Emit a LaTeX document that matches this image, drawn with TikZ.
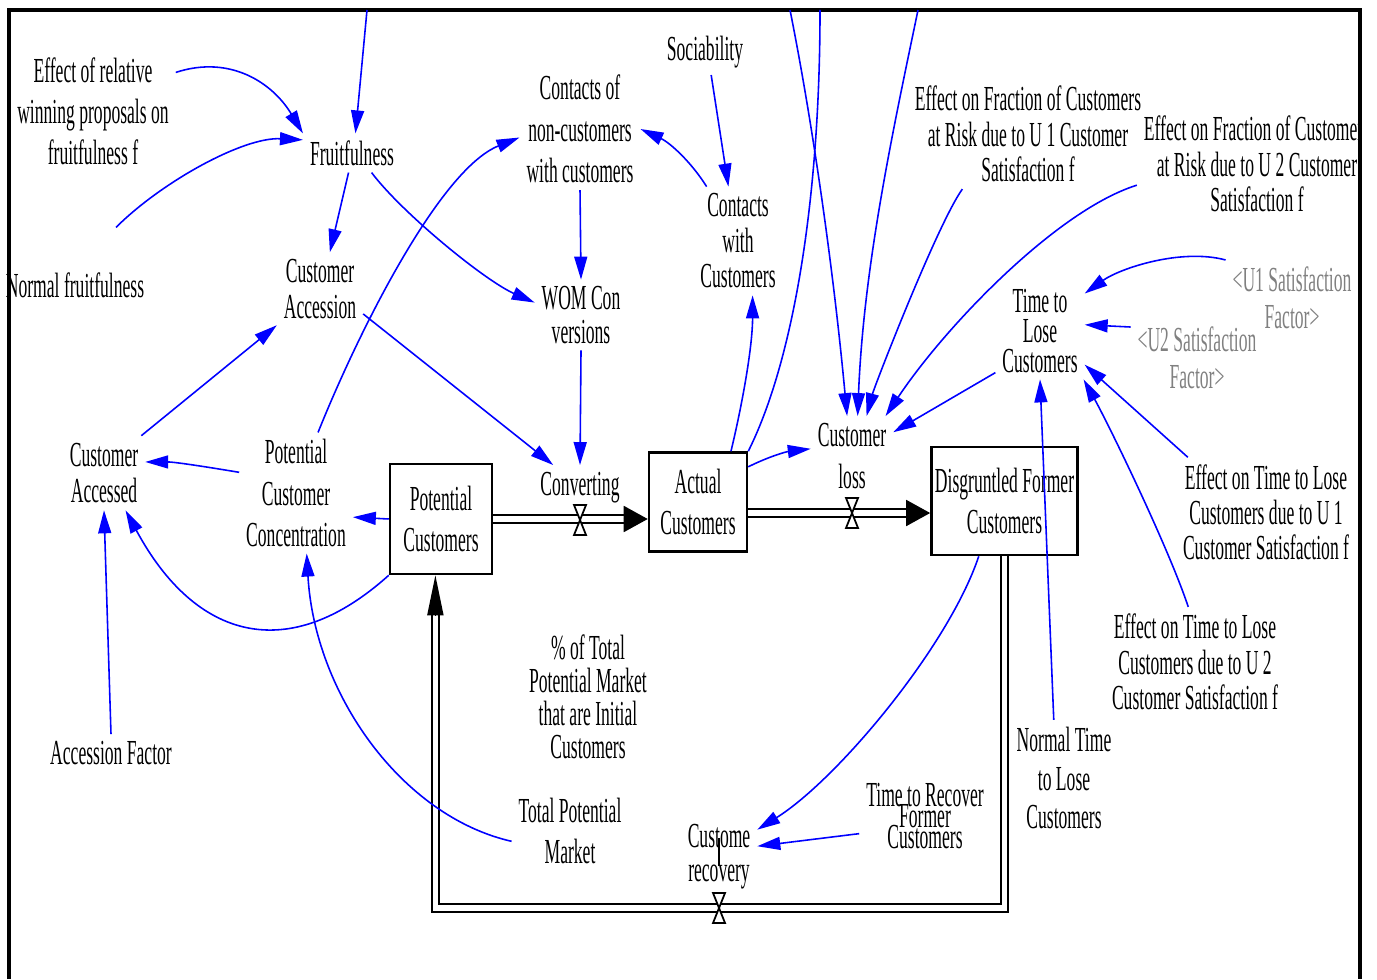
\documentclass[tikz,border=0pt]{standalone}
\usepackage{fontspec}
\setmainfont{Liberation Serif}[FakeStretch=0.5]
\usepackage{xcolor}
\usepackage{tikz}
\usetikzlibrary{arrows.meta,positioning,calc}
\tikzset{
  var/.style={align=center, inner sep=0pt, outer sep=2pt, font={\fontsize{10}{#1}\selectfont\lineskiplimit=-20pt}},
  var/.default=10.4,
  shadowvar/.style={var=#1, text=black!50},
  shadowvar/.default=10.5,
  stock/.style={draw, line width=0.7pt, fill=white, inner sep=1pt, align=center, font={\fontsize{10}{11.7}\selectfont}},
  link/.style={draw=blue, line width=0.45pt, -{Triangle[length=2.3mm,width=1.3mm]}},
  pipe/.style={draw=black, double=white, line width=0.55pt, double distance=0.55mm},
  pipetip/.style={-{Triangle[length=2.4mm,width=2.6mm]}, line width=0.5pt},
  pipetipup/.style={-{Triangle[length=4mm,width=1.6mm]}, line width=0.5pt},
  valve/.style={draw, fill=white, line width=0.5pt},
}
\newcommand{\flowvalve}[1]{\draw[valve] ($(#1)+(-6,15)$) -- ++(12,0) -- ++(-12,-30) -- ++(12,0) -- cycle;}

\begin{document}
\begin{tikzpicture}[x=0.01cm, y=0.01cm]
\useasboundingbox (0,0) rectangle (1377,-979);
\draw[line width=1pt] (9,-979) -- (9,-10) -- (1360,-10) -- (1360,-979);
\coordinate (t1) at (367,-10);
\coordinate (t2) at (790,-10);
\coordinate (t3) at (820,-10);
\coordinate (t4) at (918,-10);

% stocks
\node[stock, minimum width=1.02cm, minimum height=1.10cm] (pc) at (441,-519) {Potential\\Customers};
\node[stock, minimum width=0.98cm, minimum height=0.99cm] (ac) at (698,-502) {Actual\\Customers};
\node[stock, minimum width=1.43cm, minimum height=1.08cm] (dfc) at (1004.5,-501) {Disgruntled Former\\Customers};

% flows
\coordinate (cv) at (580,-520);
\coordinate (lv) at (852,-513);
\coordinate (rv) at (719,-908);
\coordinate (acin) at (ac.west |- pc.east);
\coordinate (dfcin) at (dfc.west |- lv);
\coordinate (pcin) at ([xshift=-1.6pt]pc.south);
\draw[pipe, shorten >=2mm] (pc.east) -- (acin);
\draw[pipetip] ([xshift=-2.4mm]acin) -- (acin);
\draw[pipe, shorten >=2mm] (ac.east |- lv) -- (dfcin);
\draw[pipetip] ([xshift=-2.4mm]dfcin) -- (dfcin);
\draw[pipe, shorten >=3.5mm] (dfc.south) -- (dfc.south |- rv) -- (pcin |- rv) -- (pcin);
\draw[pipetipup] ([yshift=-4mm]pcin) -- (pcin);
\flowvalve{cv}
\flowvalve{lv}
\flowvalve{rv}
\draw[line width=0.4pt] ($(rv)+(0,42)$) -- ($(rv)+(0,70)$);

% rates
\node[var, above=0.1cm of cv] (conv) {Converting};
\node[var=12, above=0.17cm of lv] (closs) {Customer\\loss};
\node[var=9.7, above=0.12cm of rv] (rec) {Custome\\recovery};

% auxiliaries
\node[var=11.7] (effrel) at (93,-111) {Effect of relative\\winning proposals on\\fruitfulness f};
\node[var] (normfr) at (75,-285) {Normal fruitfulness};
\node[var] (fruit) at (352,-153) {Fruitfulness};
\node[var=10.2] (cacc) at (320,-289) {Customer\\Accession};
\node[var=11.8] (contnc) at (580,-129) {Contacts of\\non-customers\\with customers};
\node[var] (soc) at (705,-52) {Sociability};
\node[var=10.1] (contwc) at (738,-241) {Contacts\\with\\Customers};
\node[var=9.4] (wom) at (581,-315) {WOM Con\\versions};
\node[var=10.5] (caccd) at (104,-473) {Customer\\Accessed};
\node[var=11.7] (pcc) at (296,-493) {Potential\\Customer\\Concentration};
\node[var=8.4] (ttl) at (1040,-331) {Time to\\Lose\\Customers};
\node[var=10.1] (efU1) at (1028,-134) {Effect on Fraction of Customers\\at Risk due to U 1 Customer\\Satisfaction f};
\begin{scope}
\clip (0,0) rectangle (1361,-979);
\node[var=10.1] (efU2) at (1257,-164) {Effect on Fraction of Customers\\at Risk due to U 2 Customer\\Satisfaction f};
\end{scope}
\node[shadowvar] (u1sf) at (1292,-298) {<U1 Satisfaction\\Factor>};
\node[shadowvar] (u2sf) at (1197,-358) {<U2 Satisfaction\\Factor>};
\node[var=10] (etU1) at (1266,-512) {Effect on Time to Lose\\Customers due to U 1\\Customer Satisfaction f};
\node[var=10.1] (etU2) at (1195,-662) {Effect on Time to Lose\\Customers due to U 2\\Customer Satisfaction f};
\node[var=11] (ntl) at (1064,-778) {Normal Time\\to Lose\\Customers};
\node[var=9.4] (pct) at (588,-697) {\% of Total\\Potential Market\\that are Initial\\Customers};
\node[var=11.7] (tpm) at (570,-831) {Total Potential\\Market};
\node[var=6.1] (ttr) at (925,-816) {Time to Recover\\Former\\Customers};
\node[var] (accf) at (111,-753) {Accession Factor};

% links
\draw[link] (effrel.25) .. controls +(55,18) and +(-30,50) .. (fruit.north west);
\draw[link] ($(normfr.north)+(41,38)$) .. controls +(45,45) and +(-60,3) .. (fruit.165);
\draw[link] (t1) -- (fruit.80);
\draw[link] (fruit.-100) -- (cacc.75);
\draw[link] (fruit.-45) .. controls +(30,-40) and +(-50,22) .. (wom.165);
\draw[link] (cacc.-30) -- (conv.140);
\draw[link] (caccd.45) -- (cacc.220);
\draw[link] (pcc.70) .. controls +(40,100) and +(-80,-32) .. (contnc.188);
\draw[link] (contnc.south) -- (wom.north);
\draw[link] (wom.south) -- (conv.north);
\draw[link] (soc.-75) -- (contwc.100);
\draw[link] (contwc.120) .. controls +(-15,24) and +(30,-14) .. (contnc.0);
\draw[link] (ac.57) .. controls +(12,50) and +(0,-50) .. (contwc.-75);
\draw[link] (ac.35) .. controls +(20,10) and +(-25,-3) .. (closs.170);
\draw[link, -] (ac.north east) .. controls +(45,90) and +(0,-190) .. (t3);
\draw[link] (t2) .. controls +(22,-110) and +(-14,150) .. (closs.97);
\draw[link] (t4) .. controls +(-25,-120) and +(6,150) .. (closs.82);
\draw[link] (efU1.-140) .. controls +(-25,-35) and +(8,30) .. (closs.70);
\draw[link] (efU2.190) .. controls +(-80,-25) and +(60,90) .. (closs.50);
\draw[link] (ttl.-137) -- (closs.30);
\draw[link] (u1sf.north west) .. controls +(-45,12) and +(35,25) .. (ttl.40);
\draw[link] (u2sf.155) -- (ttl.8);
\draw[link] (etU1.145) -- (ttl.-37);
\draw[link] (etU2.97) .. controls +(-20,60) and +(25,-45) .. (ttl.-48);
\draw[link] (ntl.100) -- (ttl.south);
\draw[link] (pc.west) -- (pcc.-23);
\draw[link] (pc.south west) .. controls +(-100,-90) and +(70,-130) .. (caccd.-60);
\draw[link] (pcc.160) .. controls +(-30,5) and +(30,0) .. (caccd.15);
\draw[link] (accf.north) -- (caccd.south);
\draw[link] (tpm.190) .. controls +(-110,25) and +(8,-140) .. (pcc.-80);
\draw[link] (dfc.-115) .. controls +(-30,-90) and +(80,50) .. (rec.35);
\draw[link] (ttr.-165) -- (rec.15);
\end{tikzpicture}
\end{document}
